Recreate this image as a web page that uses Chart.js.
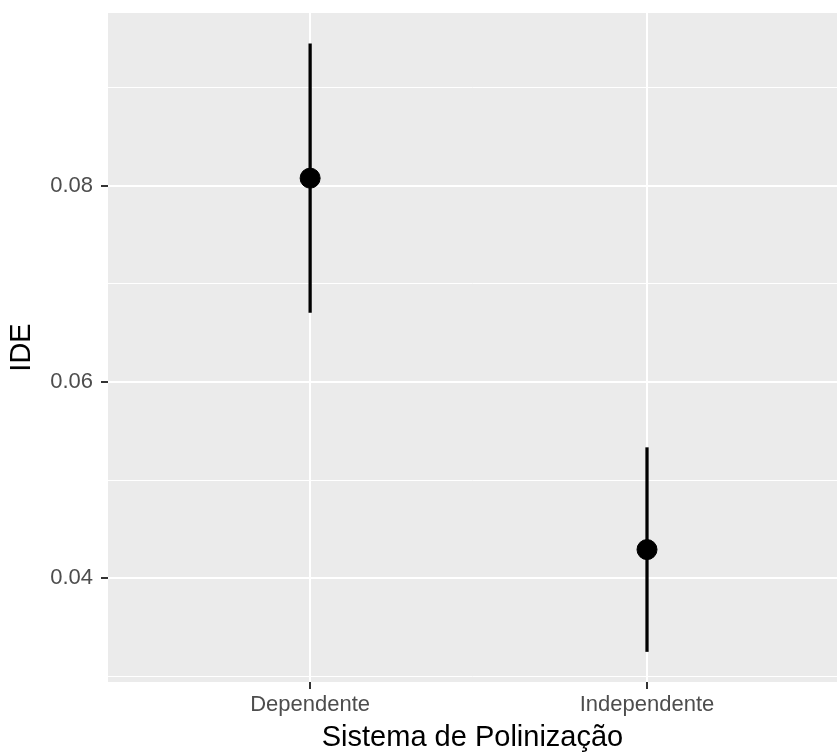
<!DOCTYPE html>
<html>
<head>
<meta charset="utf-8">
<script src="https://cdn.jsdelivr.net/npm/chart.js@4"></script>
<style>
  html, body { margin: 0; padding: 0; background: #fff; overflow: hidden; }
  canvas { display: block; }
</style>
</head>
<body>
<canvas id="ideChart" width="837" height="755"></canvas>
<script>
// categorias e valores
const categories = ['Dependente', 'Independente'];
const means = [0.0808, 0.0429];
const lower = [0.0671, 0.0325];
const upper = [0.0945, 0.0533];
const yMajor = [0.04, 0.06, 0.08];
const yMinor = [0.03, 0.05, 0.07, 0.09];

const isMajor = v => yMajor.some(m => Math.abs(m - v) < 1e-9);

// fundo cinza do painel (estilo ggplot)
const panelBg = {
    id: 'panelBg',
    beforeDraw(chart) {
        const a = chart.chartArea;
        const ctx = chart.ctx;
        ctx.save();
        ctx.fillStyle = '#EBEBEB';
        ctx.fillRect(a.left, a.top, a.right - a.left, a.bottom - a.top);
        ctx.restore();
    }
};

const ctx = document.getElementById('ideChart').getContext('2d');
const ideChart = new Chart(ctx, {
    data: {
        datasets: [{
            type: 'bar',
            label: 'IC',
            data: categories.map((c, i) => ({ x: i + 1, y: [lower[i], upper[i]] })),
            backgroundColor: '#000',
            barThickness: 2.6,
            order: 2
        }, {
            type: 'scatter',
            label: 'IDE',
            data: categories.map((c, i) => ({ x: i + 1, y: means[i] })),
            backgroundColor: '#000',
            borderColor: '#000',
            pointRadius: 10,
            order: 1
        }]
    },
    options: {
        responsive: false,
        animation: false,
        layout: { autoPadding: false, padding: { top: 13, right: 0, left: 0, bottom: 0 } },
        plugins: { legend: { display: false }, tooltip: { enabled: false } },
        scales: {
            x: {
                type: 'linear',
                offset: false,
                min: 0.4,
                max: 2.564,
                afterBuildTicks: s => { s.ticks = categories.map((c, i) => ({ value: i + 1 })); },
                afterFit: s => { s.height = 73; s.paddingLeft = 0; s.paddingRight = 0; },
                border: { display: false },
                grid: { offset: false, color: '#fff', lineWidth: 2, tickColor: '#333', tickLength: 7, tickWidth: 2 },
                ticks: {
                    callback: v => categories[v - 1],
                    color: '#4D4D4D',
                    font: { family: 'Liberation Sans', size: 22 },
                    padding: 3,
                    maxRotation: 0,
                    autoSkip: false
                },
                title: {
                    display: true,
                    text: 'Sistema de Polinização',
                    color: '#000',
                    font: { family: 'Liberation Sans', size: 29 },
                    padding: { top: 0, bottom: 0 }
                }
            },
            y: {
                min: 0.02939,
                max: 0.09765,
                afterBuildTicks: s => { s.ticks = yMinor.concat(yMajor).sort().map(v => ({ value: v })); },
                afterFit: s => { s.width = 108; s.paddingTop = 0; s.paddingBottom = 0; },
                border: { display: false },
                grid: {
                    color: '#fff',
                    lineWidth: c => isMajor(c.tick.value) ? 2 : 1,
                    tickColor: c => isMajor(c.tick.value) ? '#333' : 'rgba(0,0,0,0)',
                    tickLength: 7,
                    tickWidth: 2
                },
                ticks: {
                    callback: v => isMajor(v) ? v.toFixed(2) : '',
                    color: '#4D4D4D',
                    font: { family: 'Liberation Sans', size: 22 },
                    padding: 8
                },
                title: {
                    display: true,
                    text: 'IDE',
                    color: '#000',
                    font: { family: 'Liberation Sans', size: 29 },
                    padding: { top: 5, bottom: 0 }
                }
            }
        }
    },
    plugins: [panelBg]
});
</script>
</body>
</html>
